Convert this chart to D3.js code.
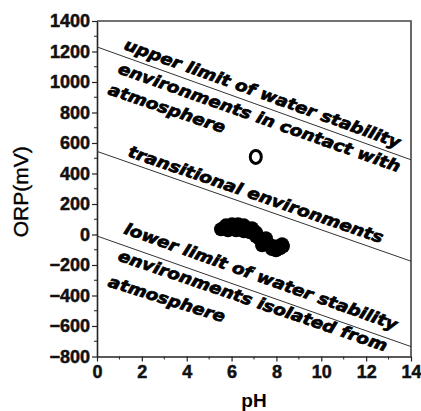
<!DOCTYPE html>
<html lang="en">
<head>
<meta charset="UTF-8" />
<title>ORP vs pH</title>
<script src="https://d3js.org/d3.v7.min.js"></script>
<style>
    body { margin: 0; background: #fff; }
    svg { display: block; }
    .note { font-family: "DejaVu Sans", sans-serif; font-weight: bold; font-style: italic; font-size: 16px; fill: #000; stroke: #000; stroke-width: 0.7px; }
</style>
</head>
<body>
<svg width="421" height="411"></svg>
<script>
    // boundary lines: [pH, ORP] at both ends
    const upperLine = [[0, 1230], [14, 490]];
    const transLine = [[0, 545], [14, -175]];
    const lowerLine = [[0, -10], [14, -735]];

    // measured samples
    const openPoint = [7.08, 509];
    const samplePH = [5.53, 5.75, 6.02, 6.29, 6.55, 5.84, 6.20, 6.55, 6.82, 6.91, 7.09, 7.36, 7.53, 7.36, 7.62, 7.89, 7.98, 8.16, 8.25,
        6.38, 6.73, 7.09, 7.22, 7.71, 8.29, 6.02, 5.66, 7.50, 7.80];
    const sampleORP = [34, 60, 67, 67, 60, 28, 28, 21, 14, 41, -12, -38, -25, -71, -58, -77, -104, -90, -64,
        41, 41, 14, -25, -71, -77, 45, 45, -55, -95];

    const xTicks = [0, 2, 4, 6, 8, 10, 12, 14];
    const yTicks = [-800, -600, -400, -200, 0, 200, 400, 600, 800, 1000, 1200, 1400];

    // annotations: text, baseline start [pH, ORP], baseline end [pH, ORP]
    const notes = [
        ["upper limit of water stability", [1.16, 1216], [13.42, 566]],
        ["environments in contact with", [0.89, 1059], [13.42, 408]],
        ["atmosphere", [0.45, 921], [5.62, 664]],
        ["transitional environments", [1.34, 514], [12.66, -58]],
        ["lower limit of water stability", [1.16, 8], [13.29, -629]],
        ["environments isolated from", [0.89, -169], [12.84, -767]],
        ["atmosphere", [0.45, -340], [5.62, -577]]
    ];

    const svg = d3.select("svg");
    const mLeft = 97, mRight = 411, mTop = 21, mBottom = 356.5;

    const x = d3.scaleLinear().domain([0, 14]).range([mLeft, mRight]);
    const y = d3.scaleLinear().domain([-800, 1400]).range([mBottom, mTop]);

    // frame top/right
    svg.append("path")
        .attr("d", `M${mLeft},${mTop}H${mRight}V${mBottom}`)
        .attr("fill", "none").attr("stroke", "#444").attr("stroke-width", 1.6);

    // minor ticks
    const xMinor = d3.range(1, 14, 2);
    const yMinor = d3.range(-700, 1400, 200);
    svg.append("g").selectAll("line").data(xMinor).join("line")
        .attr("x1", d => x(d)).attr("x2", d => x(d))
        .attr("y1", mBottom).attr("y2", mBottom + 3)
        .attr("stroke", "#222").attr("stroke-width", 1);
    svg.append("g").selectAll("line").data(yMinor).join("line")
        .attr("x1", mLeft - 3).attr("x2", mLeft)
        .attr("y1", d => y(d)).attr("y2", d => y(d))
        .attr("stroke", "#222").attr("stroke-width", 1);

    const xAxis = svg.append("g")
        .attr("transform", `translate(0,${mBottom})`)
        .call(d3.axisBottom(x).tickValues(xTicks).tickFormat(d3.format("d")).tickSize(5).tickPadding(4).tickSizeOuter(0));
    const yAxis = svg.append("g")
        .attr("transform", `translate(${mLeft},0)`)
        .call(d3.axisLeft(y).tickValues(yTicks).tickFormat(d3.format("d")).tickSize(5).tickPadding(2).tickSizeOuter(0));
    [xAxis, yAxis].forEach(a => {
        a.select(".domain").attr("stroke", "#222").attr("stroke-width", 1.6);
        a.selectAll(".tick line").attr("stroke", "#222").attr("stroke-width", 1.2);
        a.selectAll(".tick text")
            .style("font-family", "Liberation Sans, Arial, sans-serif")
            .style("font-weight", "bold")
            .style("font-size", "18px")
            .attr("fill", "#111")
            .attr("stroke", "#111").attr("stroke-width", 0.5);
    });

    // axis titles
    svg.append("text")
        .attr("transform", `translate(28,${(mTop + mBottom) / 2 + 3}) rotate(-90)`)
        .attr("text-anchor", "middle")
        .style("font-family", "Liberation Sans, Arial, sans-serif")
        .style("font-size", "21px")
        .attr("stroke", "#000").attr("stroke-width", 0.4)
        .text("ORP(mV)");
    svg.append("text")
        .attr("x", (mLeft + mRight) / 2).attr("y", 407)
        .attr("text-anchor", "middle")
        .style("font-family", "Liberation Sans, Arial, sans-serif")
        .style("font-weight", "bold")
        .style("font-size", "19px")
        .text("pH");

    // boundary lines
    svg.append("g").selectAll("line").data([upperLine, transLine, lowerLine]).join("line")
        .attr("x1", d => x(d[0][0])).attr("y1", d => y(d[0][1]))
        .attr("x2", d => x(d[1][0])).attr("y2", d => y(d[1][1]))
        .attr("stroke", "#333").attr("stroke-width", 1);

    // annotations
    svg.append("g").selectAll("text").data(notes).join("text")
        .attr("class", "note")
        .attr("transform", d => {
            const x0 = x(d[1][0]), y0 = y(d[1][1]);
            const ang = Math.atan2(y(d[2][1]) - y0, x(d[2][0]) - x0) * 180 / Math.PI;
            return `translate(${x0},${y0}) rotate(${ang})`;
        })
        .attr("textLength", d => Math.hypot(x(d[2][0]) - x(d[1][0]), y(d[2][1]) - y(d[1][1])))
        .attr("lengthAdjust", "spacingAndGlyphs")
        .text(d => d[0]);

    // samples
    svg.append("g").selectAll("circle").data(d3.zip(samplePH, sampleORP)).join("circle")
        .attr("cx", d => x(d[0])).attr("cy", d => y(d[1]))
        .attr("r", 7).attr("fill", "#000");

    svg.append("ellipse")
        .attr("cx", x(openPoint[0])).attr("cy", y(openPoint[1]))
        .attr("rx", 5.5).attr("ry", 6.5)
        .attr("fill", "none").attr("stroke", "#000").attr("stroke-width", 3);
</script>
</body>
</html>
